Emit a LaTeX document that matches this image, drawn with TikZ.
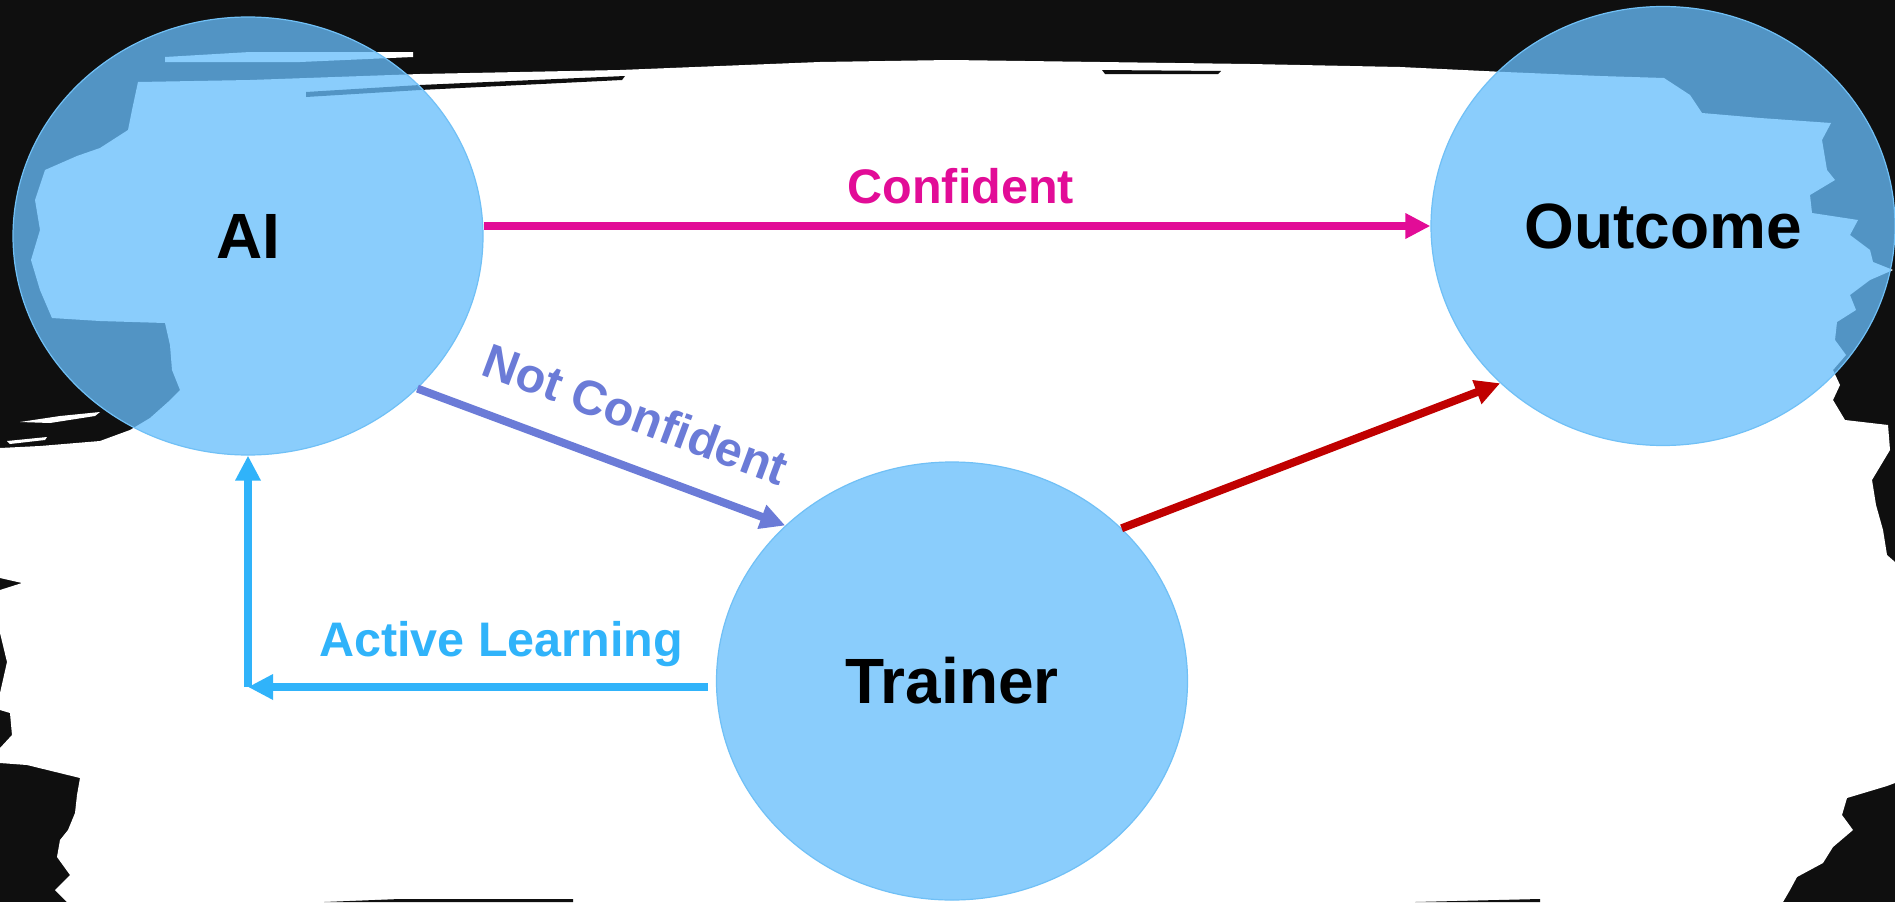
\documentclass[tikz,border=0pt]{standalone}
\usepackage{fontspec}
\setmainfont{Liberation Sans}
\usepackage{tikz}
\usetikzlibrary{shapes.geometric,arrows.meta}
\definecolor{inkblack}{HTML}{0F0F0F}
\definecolor{stagefill}{RGB}{103,190,252}
\definecolor{stageline}{RGB}{112,192,246}
\definecolor{surepink}{HTML}{E20C97}
\definecolor{unsureblue}{HTML}{6B7BD7}
\definecolor{resultred}{HTML}{C00000}
\definecolor{learnblue}{HTML}{30B3FA}
\tikzset{
  stage/.style = {ellipse, draw=stageline, line width=1.2pt, fill=stagefill, fill opacity=0.765, text opacity=1, inner sep=0pt, font=\bfseries\fontsize{64}{70}\selectfont, minimum width=470pt, minimum height=438pt},
  flow/.style = {line width=8pt, -{Triangle[length=25pt,width=24pt]}},
  flowlabel/.style = {inner sep=0pt, anchor=base, font=\bfseries\fontsize{48.5}{55}\selectfont},
}

\begin{document}
\begin{tikzpicture}[x=1pt, y=-1pt]
\useasboundingbox (0,0) rectangle (1895,902);
% brush stroke on black
\fill[inkblack] (0,0) rectangle (1895,902);
\fill[white] (0,448) -- (40,446) -- (100,441) -- (130,430) -- (150,418) -- (168,402) -- (180,390) -- (172,370) -- (170,345) -- (165,323)
  -- (100,321) -- (52,318) -- (40,290) -- (31,260) -- (40,230) -- (35,200) -- (45,170) -- (77,156) -- (100,148) -- (128,130) -- (132,110) -- (138,82)
  -- (250,80) -- (420,74) -- (520,72) -- (620,70) -- (720,66) -- (820,62) -- (950,60) -- (1100,62) -- (1250,64) -- (1400,67) -- (1505,72) -- (1600,76) -- (1664,78)
  -- (1690,95) -- (1702,113) -- (1760,118) -- (1831,123) -- (1822,140) -- (1827,170) -- (1835,180) -- (1810,195) -- (1812,213) -- (1858,220) -- (1850,235)
  -- (1870,250) -- (1873,262) -- (1893,270) -- (1870,280) -- (1850,295) -- (1856,310) -- (1837,322) -- (1835,340) -- (1846,355) -- (1833,370) -- (1840,385)
  -- (1833,400) -- (1845,420) -- (1888,425) -- (1890,450) -- (1872,480) -- (1876,505) -- (1883,530) -- (1887,555) -- (1895,562) -- (1895,783)
  -- (1887,786) -- (1847,798) -- (1842,815) -- (1853,830) -- (1833,847) -- (1823,863) -- (1797,877) -- (1790,890) -- (1783,902)
  -- (67,902) -- (55,890) -- (70,875) -- (57,857) -- (60,840) -- (68,830) -- (75,813) -- (77,795) -- (80,778) -- (27,765) -- (0,763)
  -- (0,748) -- (12,735) -- (10,713) -- (0,710) -- (0,693) -- (7,662) -- (0,633) -- (0,590) -- (22,583) -- (0,578) -- cycle;
\fill[white] (165,57) -- (250,52) -- (413,52) -- (413,57) -- (300,62) -- (165,62) -- cycle;
\fill[white] (20,422) -- (60,416) -- (100,412) -- (95,416) -- (50,423) -- cycle;
\fill[white] (7,441) -- (47,437) -- (45,440) -- (10,444) -- cycle;
\fill[inkblack] (306,92) -- (420,85) -- (625,76) -- (622,80) -- (420,90) -- (306,97) -- cycle;
\fill[inkblack] (1102,70) -- (1221,71) -- (1218,74) -- (1105,74) -- cycle;
\fill[inkblack] (324,902) -- (400,899) -- (573,899) -- (573,902) -- cycle;
\fill[inkblack] (1415,902) -- (1540,899) -- (1540,902) -- cycle;

\node[stage] (AI) at (248,236) {AI};
\node[stage, minimum width=464pt, minimum height=439pt] (Outcome) at (1663,226) {Outcome};
\node[stage, minimum width=471pt] (Trainer) at (952,681) {Trainer};

\draw[flow, surepink] (AI.east |- Outcome.west) -- node[flowlabel, pos=0.504, yshift=23pt] {Confident} (Outcome.west);
\draw[flow, unsureblue] (AI.-42.5) -- node[flowlabel, sloped, pos=0.544, yshift=35pt] {Not Confident} (Trainer.137);
\draw[flow, resultred] (Trainer.42.7) -- (Outcome.224);
\coordinate (tw) at ([xshift=-8pt, yshift=-6pt]Trainer.west);
\coordinate (turn) at (AI.south |- tw);
\draw[flow, learnblue] (tw) -- node[flowlabel, pos=0.45, yshift=31pt] {Active Learning} (turn);
\draw[flow, learnblue] (turn) -- (AI.south);
\end{tikzpicture}
\end{document}
